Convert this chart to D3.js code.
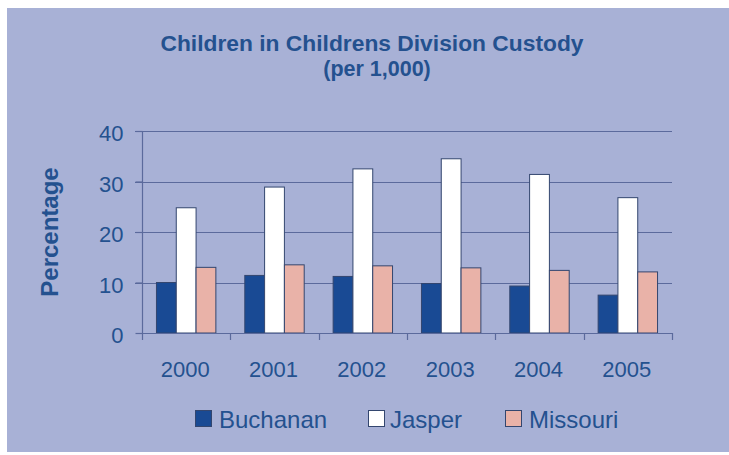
<!DOCTYPE html>
<html>
<head>
<meta charset="utf-8">
<script src="https://cdn.jsdelivr.net/npm/d3@7"></script>
<style>
  html, body { margin: 0; padding: 0; background: #ffffff; }
  svg { display: block; font-family: "Liberation Sans", Arial, sans-serif; }
</style>
</head>
<body>
<svg id="chart" width="729" height="455"></svg>
<script>
const years = ["2000", "2001", "2002", "2003", "2004", "2005"];
const seriesNames = ["Buchanan", "Jasper", "Missouri"];
const buchanan = [10.0, 11.4, 11.2, 9.8, 9.3, 7.5];
const jasper = [24.8, 28.9, 32.5, 34.5, 31.4, 26.8];
const missouri = [13.0, 13.5, 13.3, 12.9, 12.4, 12.1];
const yTicks = [0, 10, 20, 30, 40];
const titleLines = ["Children in Childrens Division Custody", "(per 1,000)"];
const yAxisTitle = "Percentage";

const colors = { Buchanan: "#194a94", Jasper: "#ffffff", Missouri: "#e9b2a8" };
const textBlue = "#24518f";
const gridColor = "#5b6a9c";

const svg = d3.select("#chart");

// panel background
svg.append("rect").attr("x", 7).attr("y", 8).attr("width", 722).attr("height", 444)
  .attr("fill", "#a8b1d6");

// title
svg.append("text").attr("x", 372).attr("y", 51).attr("text-anchor", "middle")
  .attr("font-size", 22.8).attr("font-weight", "bold").attr("fill", textBlue)
  .text(titleLines[0]);
svg.append("text").attr("x", 377).attr("y", 76).attr("text-anchor", "middle")
  .attr("font-size", 21.5).attr("font-weight", "bold").attr("fill", textBlue)
  .text(titleLines[1]);

const plot = { left: 142, right: 672, top: 131, bottom: 333 };

const x = d3.scaleBand().domain(years).range([plot.left, plot.right]).paddingInner(0).paddingOuter(0);
const y = d3.scaleLinear().domain([0, 40]).range([plot.bottom, plot.top]);
const barW = 19.8;
const xs = d3.scaleBand().domain(seriesNames).range([0, barW * 3]).padding(0);

// gridlines
const gy = svg.append("g");
gy.selectAll("line.grid").data(yTicks.filter(d => d > 0)).join("line")
  .attr("class", "grid")
  .attr("x1", plot.left - 7).attr("x2", plot.right)
  .attr("y1", d => Math.round(y(d)) + 0.5).attr("y2", d => Math.round(y(d)) + 0.5)
  .attr("stroke", gridColor).attr("stroke-width", 1.2);

// y axis via d3
const yAxis = d3.axisLeft(y).tickValues(yTicks).tickSize(7).tickPadding(12);
const yg = svg.append("g").attr("transform", `translate(${plot.left + 0.5},0)`).call(yAxis);
yg.select(".domain").attr("stroke", gridColor).attr("stroke-width", 1.2).attr("d", `M0,${plot.top}V${plot.bottom}`);
yg.selectAll(".tick line").attr("stroke", gridColor).attr("stroke-width", 1.2);
yg.selectAll(".tick text").attr("font-size", 22).attr("fill", textBlue)
  .attr("font-family", "Liberation Sans, Arial, sans-serif").attr("dy", "0.45em");

// bars
const data = years.map((yr, i) => ({ year: yr, Buchanan: buchanan[i], Jasper: jasper[i], Missouri: missouri[i] }));
const groups = svg.append("g").selectAll("g").data(data).join("g")
  .attr("transform", d => `translate(${x(d.year) + (x.bandwidth() - barW * 3) / 2},0)`);
groups.selectAll("rect").data(d => seriesNames.map(s => ({ key: s, value: d[s] }))).join("rect")
  .attr("x", d => xs(d.key))
  .attr("y", d => y(d.value))
  .attr("width", xs.bandwidth())
  .attr("height", d => y(0) - y(d.value))
  .attr("fill", d => colors[d.key])
  .attr("stroke", "#33466f").attr("stroke-width", 1);

// x axis
const boundaries = years.map(d => x(d)).concat([plot.right]);
const xg = svg.append("g");
xg.append("line").attr("x1", plot.left).attr("x2", plot.right)
  .attr("y1", plot.bottom + 0.5).attr("y2", plot.bottom + 0.5)
  .attr("stroke", gridColor).attr("stroke-width", 1.2);
xg.selectAll("line.tk").data(boundaries).join("line").attr("class", "tk")
  .attr("x1", d => Math.round(d) + 0.5).attr("x2", d => Math.round(d) + 0.5)
  .attr("y1", plot.bottom).attr("y2", plot.bottom + 7)
  .attr("stroke", gridColor).attr("stroke-width", 1.2);
xg.selectAll("text").data(years).join("text")
  .attr("x", d => x(d) + x.bandwidth() / 2 - 1)
  .attr("y", 377)
  .attr("text-anchor", "middle").attr("font-size", 22).attr("fill", textBlue)
  .text(d => d);

// y axis title
svg.append("text").attr("transform", "translate(58,232) rotate(-90)")
  .attr("text-anchor", "middle").attr("font-size", 24).attr("font-weight", "bold")
  .attr("fill", textBlue).text(yAxisTitle);

// legend
const legendPos = [{ sq: 195, tx: 219 }, { sq: 368, tx: 390 }, { sq: 505, tx: 529 }];
const lg = svg.append("g").selectAll("g").data(seriesNames).join("g");
lg.append("rect")
  .attr("x", (d, i) => legendPos[i].sq + 0.5).attr("y", 410.5)
  .attr("width", 16).attr("height", 16)
  .attr("fill", d => colors[d]).attr("stroke", "#33466f").attr("stroke-width", 1);
lg.append("text")
  .attr("x", (d, i) => legendPos[i].tx).attr("y", 428)
  .attr("font-size", 24).attr("fill", textBlue).text(d => d);
</script>
</body>
</html>
